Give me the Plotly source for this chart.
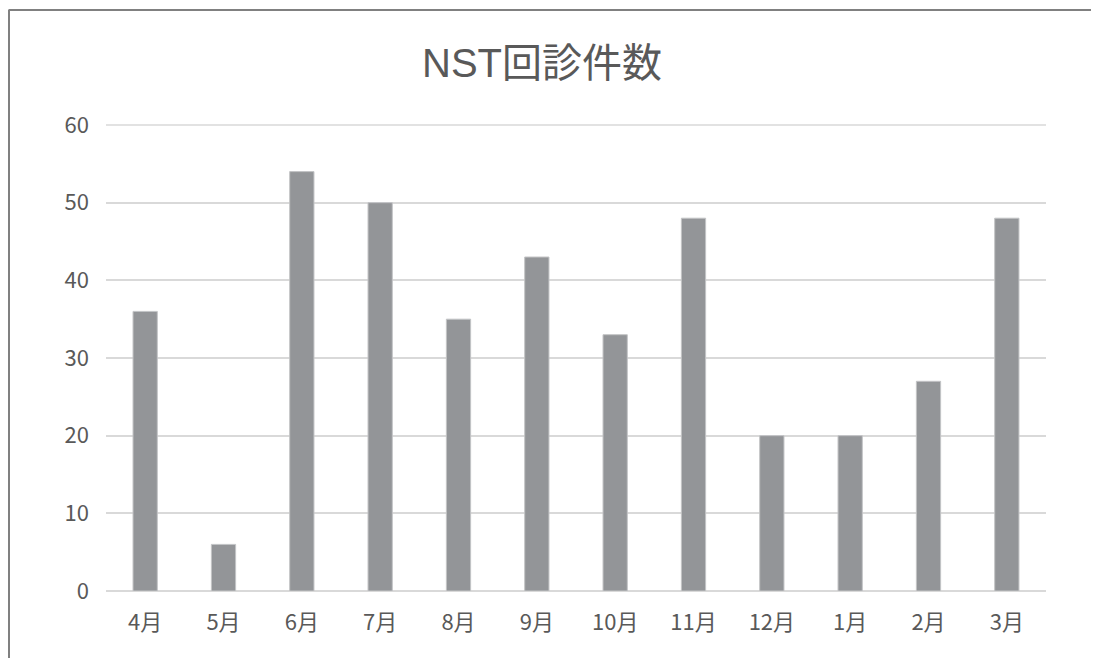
import plotly.graph_objects as go

months = ["4月", "5月", "6月", "7月", "8月", "9月", "10月", "11月", "12月", "1月", "2月", "3月"]
counts = [36, 6, 54, 50, 35, 43, 33, 48, 20, 20, 27, 48]
y_ticks = [0, 10, 20, 30, 40, 50, 60]
y_max = 60

# page body has an 8px offset; work in screen pixels and convert
OFF = 8
W, H = 1099, 658
L, R, T, B = 106 - OFF, W - (1046 - OFF), 125 - OFF, H - (591 - OFF)
pw, ph = W - L - R, H - T - B

def px_x(x):
    return (x - OFF - L) / pw

def px_y(y):
    return (H - B - (y - OFF)) / ph

label_font = dict(family="Noto Sans CJK JP, Noto Sans, sans-serif", size=22, color="#595959")

fig = go.Figure(go.Bar(
    x=months, y=counts,
    marker=dict(color="#939598", line=dict(color="#c3c4c6", width=1)),
    width=0.31,
))

fig.update_layout(
    width=W, height=H,
    margin=dict(l=L, r=R, t=T, b=B),
    paper_bgcolor="white", plot_bgcolor="white",
    showlegend=False,
    title=dict(text="NST回診件数", x=(542 - OFF) / W, xanchor="center",
               y=1 - (63 - OFF) / H, yanchor="middle",
               font=dict(family="Liberation Sans, Noto Sans CJK JP, sans-serif", size=40, color="#595959")),
    xaxis=dict(tickfont=label_font, showgrid=False, showline=False, ticks="",
               ticklabelstandoff=16),
    yaxis=dict(range=[0, y_max], tickvals=y_ticks, tickfont=label_font,
               showgrid=True, gridcolor="#d9d9d9", gridwidth=1.5,
               zeroline=True, zerolinecolor="#d9d9d9", zerolinewidth=1.5,
               showline=False, ticks="", ticklabelstandoff=16),
    shapes=[
        dict(type="line", xref="paper", yref="paper", x0=0, x1=1, y0=1, y1=1,
             layer="below", line=dict(color="#d9d9d9", width=1.5)),
        dict(type="line", xref="paper", yref="paper", x0=px_x(8.5), x1=px_x(1120),
             y0=px_y(10), y1=px_y(10), line=dict(color="#808080", width=2)),
        dict(type="line", xref="paper", yref="paper", x0=px_x(9), x1=px_x(9),
             y0=px_y(10), y1=px_y(680), line=dict(color="#808080", width=2)),
    ],
)

fig.write_html("out.html")
